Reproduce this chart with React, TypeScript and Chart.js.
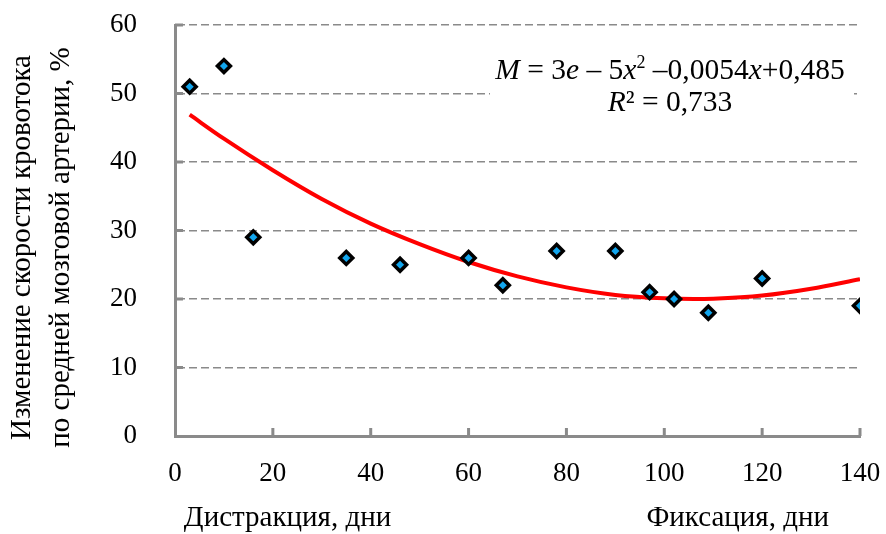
import React, { useEffect, useRef } from 'react';
import { Chart, registerables } from 'chart.js';

Chart.register(...registerables);

// ---- data ----
const pointDays = [3, 10, 16, 35, 46, 60, 67, 78, 90, 97, 102, 109, 120, 140];
const pointValues = [51, 54, 29, 26, 25, 26, 22, 27, 27, 21, 20, 18, 23, 19];

const trendDays = [3, 10, 20, 30, 40, 50, 60, 70, 80, 90, 100, 106, 110, 120, 130, 140];
const trendValues = [46.9, 43.4, 38.8, 34.6, 31.0, 28.0, 25.4, 23.3, 21.7, 20.6, 20.1, 20.0, 20.05, 20.5, 21.5, 22.9];

const xTickValues = [0, 20, 40, 60, 80, 100, 120, 140];
const yTickValues = [0, 10, 20, 30, 40, 50, 60];

const yTitleLines = ['Изменение скорости кровотока', 'по средней мозговой артерии, %'];
const phaseLabels = ['Дистракция, дни', 'Фиксация, дни'];
const phaseCenters = [23, 115];

type Seg = { t: string; i?: boolean; sup?: boolean };
const equationLine1: Seg[] = [
  { t: 'M', i: true },
  { t: ' = 3' },
  { t: 'e', i: true },
  { t: ' – 5' },
  { t: 'x', i: true },
  { t: '2', sup: true },
  { t: ' –0,0054' },
  { t: 'x', i: true },
  { t: '+0,485' },
];
const equationLine2: Seg[] = [
  { t: 'R', i: true },
  { t: '² = 0,733' },
];

// ---- styles ----
const SERIF = '"Liberation Serif", "DejaVu Serif", "Times New Roman", serif';
const AXIS = '#8a8a8a';
const GRID = '#8a8a8a';
const TEXT = '#000000';
const FS = 27;
const TITLE_FS = 29;
const EQ_FS = 29.5;

function segFont(s: Seg) {
  const size = s.sup ? Math.round(EQ_FS * 0.62) : EQ_FS;
  return `${s.i ? 'italic ' : ''}${size}px ${SERIF}`;
}

function drawSegs(ctx: CanvasRenderingContext2D, segs: Seg[], cx: number, baseline: number) {
  let total = 0;
  const widths = segs.map((s) => {
    ctx.font = segFont(s);
    const w = ctx.measureText(s.t).width;
    total += w;
    return w;
  });
  let x = cx - total / 2;
  ctx.textBaseline = 'alphabetic';
  ctx.textAlign = 'left';
  segs.forEach((s, k) => {
    ctx.font = segFont(s);
    ctx.fillText(s.t, x, s.sup ? baseline - EQ_FS * 0.38 : baseline);
    x += widths[k];
  });
}

const decorPlugin = {
  id: 'decor',
  beforeDatasetsDraw(chart: any) {
    const { ctx, chartArea } = chart;
    ctx.save();
    ctx.fillStyle = '#ffffff';
    ctx.fillRect(chartArea.left + 315, chartArea.top + 30, 364, 82);
    ctx.restore();
  },
  afterDraw(chart: any) {
    const { ctx, chartArea, scales } = chart;
    const xs = scales.x;
    const ys = scales.y;
    ctx.save();
    ctx.strokeStyle = AXIS;
    ctx.lineWidth = 3;
    ctx.beginPath();
    xTickValues.forEach((v) => {
      if (v === 0) return;
      const px = xs.getPixelForValue(v);
      ctx.moveTo(px, chartArea.bottom);
      ctx.lineTo(px, chartArea.bottom - 8);
    });
    yTickValues.forEach((v) => {
      if (v === 0) return;
      const py = ys.getPixelForValue(v);
      ctx.moveTo(chartArea.left, py);
      ctx.lineTo(chartArea.left + 8, py);
    });
    ctx.stroke();

    ctx.fillStyle = TEXT;
    ctx.font = `${TITLE_FS}px ${SERIF}`;
    ctx.textAlign = 'center';
    ctx.textBaseline = 'middle';
    const cy = (chartArea.top + chartArea.bottom) / 2 + 17;
    yTitleLines.forEach((line, k) => {
      ctx.save();
      ctx.translate(22 + k * 39, cy);
      ctx.rotate(-Math.PI / 2);
      ctx.fillText(line, 0, 0);
      ctx.restore();
    });

    ctx.textBaseline = 'alphabetic';
    phaseLabels.forEach((lab, k) => {
      ctx.fillText(lab, xs.getPixelForValue(phaseCenters[k]), chart.height - 8);
    });

    const eqCx = chartArea.left + 495;
    drawSegs(ctx, equationLine1, eqCx, chartArea.top + 54);
    drawSegs(ctx, equationLine2, eqCx, chartArea.top + 86);
    ctx.restore();
  },
};

function zeroPad(s: any) {
  s.paddingTop = 0;
  s.paddingBottom = 0;
  s.paddingLeft = 0;
  s.paddingRight = 0;
}

export default function App() {
  const ref = useRef<HTMLCanvasElement | null>(null);

  useEffect(() => {
    if (!ref.current) return;
    let chart: any = null;
    let cancelled = false;
    const build = () => {
      if (cancelled || !ref.current) return;
      chart = new Chart(ref.current, {
        type: 'scatter',
        data: {
          datasets: [
            {
              label: 'points',
              data: pointDays.map((d, k) => ({ x: d, y: pointValues[k] })),
              pointStyle: 'rectRot',
              pointRadius: 6.5,
              pointBackgroundColor: '#12a6ee',
              pointBorderColor: '#000000',
              pointBorderWidth: 3.5,
              showLine: false,
              order: 0,
            },
            {
              label: 'trend',
              data: trendDays.map((d, k) => ({ x: d, y: trendValues[k] })),
              showLine: true,
              borderColor: '#ff0000',
              borderWidth: 4,
              pointRadius: 0,
              cubicInterpolationMode: 'monotone',
              fill: false,
              order: 1,
            },
          ],
        },
        options: {
          animation: false,
          responsive: false,
          maintainAspectRatio: false,
          layout: { padding: { top: 25, right: 26, left: 0, bottom: 0 } },
          plugins: {
            legend: { display: false },
            tooltip: { enabled: false },
          },
          scales: {
            x: {
              type: 'linear',
              min: 0,
              max: 140,
              afterBuildTicks: (s: any) => {
                s.ticks = xTickValues.map((v) => ({ value: v }));
              },
              afterFit: (s: any) => {
                s.height = 98;
                zeroPad(s);
              },
              grid: { display: false, drawTicks: false },
              border: { color: AXIS, width: 3 },
              ticks: {
                color: TEXT,
                padding: 22,
                maxRotation: 0,
                font: { family: SERIF, size: FS },
              },
            },
            y: {
              type: 'linear',
              min: 0,
              max: 60,
              afterBuildTicks: (s: any) => {
                s.ticks = yTickValues.map((v) => ({ value: v }));
              },
              afterFit: (s: any) => {
                s.width = 175;
                zeroPad(s);
              },
              grid: {
                color: (c: any) => (c.tick && c.tick.value === 0 ? 'rgba(0,0,0,0)' : GRID),
                lineWidth: 1.5,
                drawTicks: false,
              },
              border: { color: AXIS, width: 3, dash: [8, 4] },
              ticks: {
                color: TEXT,
                padding: 38,
                font: { family: SERIF, size: FS },
              },
            },
          },
        },
        plugins: [decorPlugin],
      } as any);
    };
    const fonts: any = (document as any).fonts;
    if (fonts && fonts.load) {
      Promise.all([
        fonts.load(`${FS}px "Liberation Serif"`),
        fonts.load(`italic ${EQ_FS}px "Liberation Serif"`),
      ])
        .catch(() => null)
        .then(() => build());
    } else {
      build();
    }
    return () => {
      cancelled = true;
      if (chart) chart.destroy();
    };
  }, []);

  return (
    <div style={{ position: 'absolute', left: 0, top: 0, width: 886, height: 534, background: '#fff' }}>
      <canvas ref={ref} width={886} height={534} style={{ display: 'block' }} />
    </div>
  );
}
